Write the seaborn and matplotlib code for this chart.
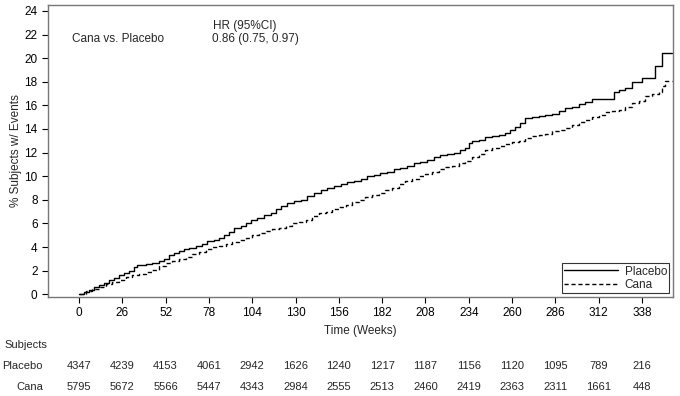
import pandas as pd
import seaborn as sns
import matplotlib.pyplot as plt
import matplotlib.transforms as mtransforms

# Cumulative % of subjects with events (step curves)
placebo_weeks = [0, 3, 6, 9, 12, 15, 18, 21, 24, 27, 30, 33, 35, 40, 44, 48, 51, 54, 57, 60,
                 63, 66, 70, 74, 77, 81, 84, 87, 90, 93, 97, 100, 103, 107, 111, 115, 118, 121,
                 125, 129, 133, 137, 141, 145, 149, 153, 157, 161, 165, 169, 173, 177, 181, 185,
                 189, 193, 197, 201, 205, 209, 213, 217, 221, 225, 229, 232, 234, 236, 240, 244,
                 248, 252, 256, 259, 262, 265, 268, 272, 276, 280, 284, 288, 292, 296, 300, 304,
                 308, 321, 324, 328, 332, 338, 346, 350, 356]
placebo_pct = [0, 0.2, 0.4, 0.6, 0.8, 1.0, 1.2, 1.4, 1.6, 1.8, 2.0, 2.3, 2.5, 2.55, 2.65, 2.8,
               3.0, 3.3, 3.5, 3.65, 3.8, 3.95, 4.1, 4.3, 4.5, 4.6, 4.8, 5.0, 5.3, 5.6, 5.8, 6.05,
               6.3, 6.5, 6.7, 6.9, 7.2, 7.5, 7.7, 7.9, 8.0, 8.3, 8.6, 8.8, 9.0, 9.2, 9.3, 9.5,
               9.6, 9.8, 10.0, 10.1, 10.3, 10.4, 10.6, 10.7, 10.9, 11.1, 11.2, 11.4, 11.6, 11.8,
               11.9, 12.0, 12.2, 12.4, 12.8, 13.0, 13.1, 13.3, 13.4, 13.5, 13.7, 13.9, 14.2,
               14.5, 14.9, 15.0, 15.1, 15.2, 15.3, 15.5, 15.8, 15.9, 16.1, 16.3, 16.5, 17.1,
               17.3, 17.5, 18.0, 18.3, 19.3, 20.4, 20.4]

cana_weeks = [0, 4, 8, 12, 16, 20, 24, 28, 32, 36, 40, 44, 48, 52, 56, 60, 64, 68, 72, 76, 80,
              84, 88, 92, 96, 100, 104, 108, 112, 116, 120, 124, 128, 132, 136, 140, 144, 148,
              152, 156, 160, 164, 168, 172, 176, 180, 184, 188, 192, 196, 200, 204, 208, 212,
              216, 220, 224, 228, 232, 236, 240, 244, 248, 252, 256, 260, 264, 268, 272, 276,
              280, 284, 288, 292, 296, 300, 304, 308, 312, 316, 320, 324, 328, 332, 336, 340,
              344, 348, 350, 352, 356]
cana_pct = [0, 0.25, 0.45, 0.65, 0.85, 1.05, 1.25, 1.45, 1.6, 1.75, 1.9, 2.1, 2.4, 2.65, 2.85,
            3.0, 3.2, 3.4, 3.6, 3.8, 4.0, 4.1, 4.25, 4.4, 4.6, 4.8, 5.0, 5.2, 5.35, 5.5, 5.65,
            5.8, 6.0, 6.15, 6.3, 6.6, 6.9, 7.0, 7.2, 7.4, 7.6, 7.8, 8.0, 8.2, 8.4, 8.6, 8.8,
            9.0, 9.3, 9.6, 9.8, 10.0, 10.2, 10.4, 10.6, 10.8, 10.9, 11.1, 11.3, 11.6, 11.9,
            12.2, 12.4, 12.6, 12.7, 12.9, 13.0, 13.2, 13.4, 13.5, 13.6, 13.8, 13.9, 14.1, 14.3,
            14.6, 14.8, 15.0, 15.2, 15.4, 15.5, 15.6, 15.9, 16.2, 16.4, 16.8, 17.0, 17.1, 17.6,
            18.1, 18.1]

# Number at risk table
risk_weeks = [0, 26, 52, 78, 104, 130, 156, 182, 208, 234, 260, 286, 312, 338]
placebo_risk = [4347, 4239, 4153, 4061, 2942, 1626, 1240, 1217, 1187, 1156, 1120, 1095, 789, 216]
cana_risk = [5795, 5672, 5566, 5447, 4343, 2984, 2555, 2513, 2460, 2419, 2363, 2311, 1661, 448]

sns.set_theme(style="ticks")
plt.rcParams["font.family"] = ["Liberation Sans", "DejaVu Sans"]
plt.rcParams["font.size"] = 8.5

df = pd.concat([
    pd.DataFrame({"week": placebo_weeks, "pct": placebo_pct, "group": "Placebo"}),
    pd.DataFrame({"week": cana_weeks, "pct": cana_pct, "group": "Cana"}),
])

fig = plt.figure(figsize=(6.8, 3.96), dpi=100)
ax = fig.add_axes([0.0706, 0.2508, 0.9191, 0.7366])

sns.lineplot(data=df, x="week", y="pct", hue="group", style="group",
             palette={"Placebo": "black", "Cana": "black"},
             dashes={"Placebo": "", "Cana": (3, 2)},
             estimator=None, sort=False, drawstyle="steps-post",
             linewidth=1.0, ax=ax)

ax.set_xlim(-18.6, 356.6)
ax.set_ylim(-0.2, 24.5)
ax.set_xticks(risk_weeks)
ax.set_yticks(range(0, 25, 2))
ax.tick_params(labelsize=8.5, length=4, width=0.8, colors="black")
ax.set_xlabel("Time (Weeks)", fontsize=8.5)
ax.set_ylabel("% Subjects w/ Events", fontsize=8.5, labelpad=2)
for s in ax.spines.values():
    s.set_visible(True)
    s.set_color("#777777")
    s.set_linewidth(1.0)

leg = ax.legend(loc="lower right", fontsize=8.5, frameon=True, fancybox=False,
                edgecolor="black", handlelength=4.5, borderaxespad=0.3,
                borderpad=0.2, labelspacing=0.1, handletextpad=0.6)
leg.get_frame().set_linewidth(0.8)

# Hazard ratio annotation
fig.text(0.36, 0.934, "HR (95%CI)", ha="center", va="center", fontsize=8.5)
fig.text(0.375, 0.902, "0.86 (0.75, 0.97)", ha="center", va="center", fontsize=8.5)
fig.text(0.106, 0.902, "Cana vs. Placebo", ha="left", va="center", fontsize=8.5)

# Risk table
trans = mtransforms.blended_transform_factory(ax.transData, fig.transFigure)
fig.text(0.007, 0.128, "Subjects", ha="left", va="center", fontsize=8)
fig.text(0.063, 0.075, "Placebo", ha="right", va="center", fontsize=8)
fig.text(0.063, 0.022, "Cana", ha="right", va="center", fontsize=8)
for w, p, c in zip(risk_weeks, placebo_risk, cana_risk):
    ax.text(w, 0.075, str(p), transform=trans, ha="center", va="center", fontsize=8)
    ax.text(w, 0.022, str(c), transform=trans, ha="center", va="center", fontsize=8)

plt.savefig("out.png", dpi=100)
